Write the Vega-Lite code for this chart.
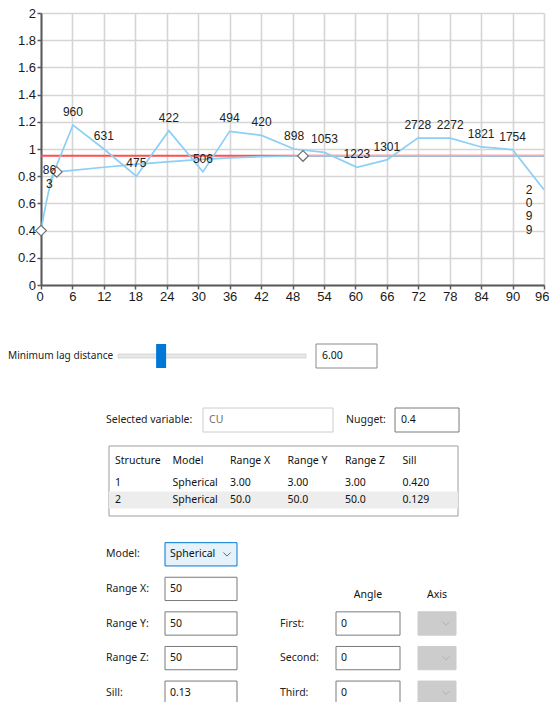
{
  "$schema": "https://vega.github.io/schema/vega-lite/v6.json",
  "background": "white",
  "padding": {"left": 8, "top": 7, "right": 0, "bottom": 0},
  "config": {
    "view": {"stroke": null},
    "text": {"font": "Noto Sans", "fontSize": 10.5, "color": "#111111"}
  },
  "datasets": {
    "exp": [
      {"lag": 1.6, "gamma": 0.75, "pairs": 863, "label": "86\n3"},
      {"lag": 6.1, "gamma": 1.175, "pairs": 960, "label": "960"},
      {"lag": 12.0, "gamma": 1.0, "pairs": 631, "label": "631"},
      {"lag": 18.2, "gamma": 0.8, "pairs": 475, "label": "475"},
      {"lag": 24.4, "gamma": 1.135, "pairs": 422, "label": "422"},
      {"lag": 30.9, "gamma": 0.832, "pairs": 506, "label": "506"},
      {"lag": 36.0, "gamma": 1.13, "pairs": 494, "label": "494"},
      {"lag": 42.1, "gamma": 1.1, "pairs": 420, "label": "420"},
      {"lag": 48.3, "gamma": 1.0, "pairs": 898, "label": "898"},
      {"lag": 54.1, "gamma": 0.975, "pairs": 1053, "label": "1053"},
      {"lag": 60.3, "gamma": 0.865, "pairs": 1223, "label": "1223"},
      {"lag": 66.0, "gamma": 0.92, "pairs": 1301, "label": "1301"},
      {"lag": 71.9, "gamma": 1.08, "pairs": 2728, "label": "2728"},
      {"lag": 78.1, "gamma": 1.08, "pairs": 2272, "label": "2272"},
      {"lag": 84.0, "gamma": 1.015, "pairs": 1821, "label": "1821"},
      {"lag": 90.0, "gamma": 0.995, "pairs": 1754, "label": "1754"},
      {"lag": 96.0, "gamma": 0.7, "pairs": 2099, "label": "2\n0\n9\n9"}
    ],
    "model": [
      {"lag": 0, "gamma": 0.4}, {"lag": 0.25, "gamma": 0.4534}, {"lag": 0.5, "gamma": 0.506},
      {"lag": 0.75, "gamma": 0.5571}, {"lag": 1, "gamma": 0.6061}, {"lag": 1.25, "gamma": 0.6521},
      {"lag": 1.5, "gamma": 0.6946}, {"lag": 1.75, "gamma": 0.7326}, {"lag": 2, "gamma": 0.7655},
      {"lag": 2.25, "gamma": 0.7926}, {"lag": 2.5, "gamma": 0.8131}, {"lag": 2.75, "gamma": 0.8264},
      {"lag": 3, "gamma": 0.8316}, {"lag": 6, "gamma": 0.8431}, {"lag": 12, "gamma": 0.8656},
      {"lag": 18, "gamma": 0.8867}, {"lag": 24, "gamma": 0.9057}, {"lag": 30, "gamma": 0.9222},
      {"lag": 36, "gamma": 0.9352}, {"lag": 42, "gamma": 0.9443}, {"lag": 48, "gamma": 0.9487},
      {"lag": 50, "gamma": 0.949}, {"lag": 96, "gamma": 0.949}
    ]
  },
  "spacing": 0,
  "vconcat": [
    {
      "spacing": 0,
      "hconcat": [
        {"width": 9, "height": 50, "data": {"values": [{}]}, "mark": {"type": "rect", "opacity": 0}, "encoding": {}},
        {
          "width": 503,
          "height": 272,
          "layer": [
            {
              "data": {"values": [{"gamma": 0.95}]},
              "mark": {"type": "rule", "color": "#ff4f4f", "strokeWidth": 2},
              "encoding": {"y": {"field": "gamma", "type": "quantitative", "title": null}}
            },
            {
              "data": {"name": "model"},
              "mark": {"type": "line", "color": "#8dcff5", "strokeWidth": 1.7},
              "encoding": {
                "x": {
                  "field": "lag", "type": "quantitative", "title": null,
                  "scale": {"domain": [0, 96], "nice": false},
                  "axis": {
                    "values": [0, 6, 12, 18, 24, 30, 36, 42, 48, 54, 60, 66, 72, 78, 84, 90, 96],
                    "tickCount": 40,
                    "grid": true, "gridColor": "#d5d5d5", "gridWidth": 1.6,
                    "domainColor": "#5a5a5a", "domainWidth": 2,
                    "tickColor": "#5a5a5a", "tickWidth": 1.5, "tickSize": 4,
                    "labelFont": "Liberation Sans", "labelFontSize": 13, "labelColor": "#1a1a1a",
                    "labelPadding": 1, "labelFlush": true, "labelFlushOffset": 5, "labelOverlap": false, "labelBound": false
                  }
                },
                "y": {
                  "field": "gamma", "type": "quantitative", "title": null,
                  "scale": {"domain": [0, 2], "nice": false},
                  "axis": {
                    "values": [0, 0.2, 0.4, 0.6, 0.8, 1, 1.2, 1.4, 1.6, 1.8, 2],
                    "tickCount": 40,
                    "format": "~g",
                    "grid": true, "gridColor": "#d5d5d5", "gridWidth": 1.6,
                    "domainColor": "#5a5a5a", "domainWidth": 2,
                    "tickColor": "#5a5a5a", "tickWidth": 1.5, "tickSize": 4,
                    "labelFont": "Liberation Sans", "labelFontSize": 13, "labelColor": "#1a1a1a",
                    "labelPadding": 1.5, "labelOverlap": false
                  }
                }
              }
            },
            {
              "data": {"name": "exp"},
              "mark": {"type": "line", "color": "#8dcff5", "strokeWidth": 1.7},
              "encoding": {
                "x": {"field": "lag", "type": "quantitative", "title": null},
                "y": {"field": "gamma", "type": "quantitative", "title": null}
              }
            },
            {
              "data": {"values": [{"lag": 0, "gamma": 0.4}, {"lag": 3, "gamma": 0.8316}, {"lag": 50, "gamma": 0.949}]},
              "mark": {"type": "point", "shape": "diamond", "filled": true, "fill": "white", "stroke": "#707070", "strokeWidth": 1.2, "size": 115, "opacity": 1},
              "encoding": {
                "x": {"field": "lag", "type": "quantitative", "title": null},
                "y": {"field": "gamma", "type": "quantitative", "title": null}
              }
            },
            {
              "data": {"name": "exp"},
              "transform": [{"filter": "datum.lag < 95"}],
              "mark": {"type": "text", "font": "Liberation Sans", "fontSize": 12, "color": "#222222", "baseline": "bottom", "dy": -6, "lineBreak": "\n", "lineHeight": 14},
              "encoding": {
                "x": {"field": "lag", "type": "quantitative", "title": null},
                "y": {"field": "gamma", "type": "quantitative", "title": null},
                "text": {"field": "label"}
              }
            },
            {
              "data": {"name": "exp"},
              "transform": [{"filter": "datum.lag >= 95"}],
              "mark": {"type": "text", "font": "Liberation Sans", "fontSize": 12, "color": "#222222", "align": "center", "baseline": "middle", "dx": -15, "lineBreak": "\n", "lineHeight": 13.3},
              "encoding": {
                "x": {"field": "lag", "type": "quantitative", "title": null},
                "y": {"field": "gamma", "type": "quantitative", "title": null},
                "text": {"field": "label"}
              }
            }
          ]
        }
      ]
    },
    {"width": 1, "height": 39.5, "data": {"values": [{}]}, "mark": {"type": "rect", "opacity": 0}, "encoding": {}},
    {
      "spacing": 0,
      "hconcat": [
        {
          "width": 109, "height": 24,
          "data": {"values": [{"t": "Minimum lag distance"}]},
          "mark": {"type": "text", "align": "left", "fontSize": 10.1, "color": "#222222"},
          "encoding": {
            "x": {"datum": 0, "type": "quantitative", "scale": {"domain": [0, 1]}, "axis": null},
            "text": {"field": "t"}
          }
        },
        {
          "width": 197, "height": 24,
          "layer": [
            {
              "data": {"values": [{"from": 0, "to": 25}]},
              "mark": {"type": "rect", "fill": "#e7e9e9", "stroke": "#d4d6d6", "strokeWidth": 1},
              "encoding": {
                "x": {"field": "from", "type": "quantitative", "scale": {"domain": [0, 26.2], "nice": false, "zero": false}, "axis": null},
                "x2": {"field": "to"},
                "y": {"datum": 0.42, "type": "quantitative", "scale": {"domain": [0, 1]}, "axis": null},
                "y2": {"datum": 0.58}
              }
            },
            {
              "data": {"values": [{"minLag": 6}]},
              "mark": {"type": "rect", "fill": "#0078d7", "width": 10, "xOffset": -2},
              "encoding": {"x": {"field": "minLag", "type": "quantitative"}}
            }
          ]
        },
        {
          "width": 61, "height": 24,
          "data": {"values": [{"v": "6.00"}]},
          "layer": [
            {"mark": {"type": "rect", "fill": "white", "stroke": "#8a8a8a"}, "encoding": {}},
            {
              "mark": {"type": "text", "align": "left", "dx": 6},
              "encoding": {
                "x": {"datum": 0, "type": "quantitative", "scale": {"domain": [0, 1]}, "axis": null},
                "text": {"field": "v"}
              }
            }
          ]
        }
      ]
    },
    {"width": 1, "height": 38, "data": {"values": [{}]}, "mark": {"type": "rect", "opacity": 0}, "encoding": {}},
    {
      "spacing": 0,
      "hconcat": [
        {"width": 98, "height": 10, "data": {"values": [{}]}, "mark": {"type": "rect", "opacity": 0}, "encoding": {}},
        {
          "width": 96, "height": 24,
          "data": {"values": [{"t": "Selected variable:"}]},
          "mark": {"type": "text", "align": "left", "color": "#222222"},
          "encoding": {
            "x": {"datum": 0, "type": "quantitative", "scale": {"domain": [0, 1]}, "axis": null},
            "text": {"field": "t"}
          }
        },
        {
          "width": 130, "height": 24,
          "data": {"values": [{"v": "CU"}]},
          "layer": [
            {"mark": {"type": "rect", "fill": "white", "stroke": "#cccccc"}, "encoding": {}},
            {
              "mark": {"type": "text", "align": "left", "dx": 6, "color": "#6d6d6d"},
              "encoding": {
                "x": {"datum": 0, "type": "quantitative", "scale": {"domain": [0, 1]}, "axis": null},
                "text": {"field": "v"}
              }
            }
          ]
        },
        {"width": 12, "height": 10, "data": {"values": [{}]}, "mark": {"type": "rect", "opacity": 0}, "encoding": {}},
        {
          "width": 48, "height": 24,
          "data": {"values": [{"t": "Nugget:"}]},
          "mark": {"type": "text", "align": "left", "color": "#222222"},
          "encoding": {
            "x": {"datum": 0, "type": "quantitative", "scale": {"domain": [0, 1]}, "axis": null},
            "text": {"field": "t"}
          }
        },
        {
          "width": 64, "height": 24,
          "data": {"values": [{"v": "0.4"}]},
          "layer": [
            {"mark": {"type": "rect", "fill": "white", "stroke": "#7a7a7a"}, "encoding": {}},
            {
              "mark": {"type": "text", "align": "left", "dx": 6},
              "encoding": {
                "x": {"datum": 0, "type": "quantitative", "scale": {"domain": [0, 1]}, "axis": null},
                "text": {"field": "v"}
              }
            }
          ]
        }
      ]
    },
    {"width": 1, "height": 12, "data": {"values": [{}]}, "mark": {"type": "rect", "opacity": 0}, "encoding": {}},
    {
      "spacing": 0,
      "hconcat": [
        {"width": 100, "height": 10, "data": {"values": [{}]}, "mark": {"type": "rect", "opacity": 0}, "encoding": {}},
        {
          "width": 349, "height": 70,
          "layer": [
            {"data": {"values": [{}]}, "mark": {"type": "rect", "fill": "white", "stroke": "#9a9da3"}, "encoding": {}},
            {
              "data": {"values": [{"row": "2"}]},
              "mark": {"type": "rect", "fill": "#ededed"},
              "encoding": {
                "y": {"field": "row", "type": "nominal", "axis": null,
                  "scale": {"type": "band", "domain": ["h", "1", "2"], "paddingInner": 0, "paddingOuter": 0.5588, "align": 0.605}}
              }
            },
            {
              "data": {"values": [
                {"row": "h", "col": "Structure"}, {"row": "h", "col": "Model"}, {"row": "h", "col": "Range X"},
                {"row": "h", "col": "Range Y"}, {"row": "h", "col": "Range Z"}, {"row": "h", "col": "Sill"}
              ]},
              "mark": {"type": "text", "align": "left", "dx": 4, "dy": -5},
              "encoding": {
                "x": {"field": "col", "type": "nominal", "axis": null, "bandPosition": 0,
                  "scale": {"type": "band", "domain": ["Structure", "Model", "Range X", "Range Y", "Range Z", "Sill"], "paddingInner": 0, "paddingOuter": 0.035}},
                "y": {"field": "row", "type": "nominal", "axis": null},
                "text": {"field": "col"}
              }
            },
            {
              "data": {"values": [
                {"row": "1", "Structure": "1", "Model": "Spherical", "Range X": "3.00", "Range Y": "3.00", "Range Z": "3.00", "Sill": "0.420"},
                {"row": "2", "Structure": "2", "Model": "Spherical", "Range X": "50.0", "Range Y": "50.0", "Range Z": "50.0", "Sill": "0.129"}
              ]},
              "transform": [{"fold": ["Structure", "Model", "Range X", "Range Y", "Range Z", "Sill"], "as": ["col", "val"]}],
              "mark": {"type": "text", "align": "left", "dx": 4},
              "encoding": {
                "x": {"field": "col", "type": "nominal", "axis": null, "bandPosition": 0},
                "y": {"field": "row", "type": "nominal", "axis": null},
                "text": {"field": "val"}
              }
            }
          ]
        }
      ]
    },
    {"width": 1, "height": 19.7, "data": {"values": [{}]}, "mark": {"type": "rect", "opacity": 0}, "encoding": {}},
    {
      "spacing": 0,
      "hconcat": [
        {"width": 98, "height": 10, "data": {"values": [{}]}, "mark": {"type": "rect", "opacity": 0}, "encoding": {}},
        {
          "width": 58, "height": 173,
          "data": {"values": [
            {"row": "Model", "t": "Model:"}, {"row": "Range X", "t": "Range X:"}, {"row": "Range Y", "t": "Range Y:"},
            {"row": "Range Z", "t": "Range Z:"}, {"row": "Sill", "t": "Sill:"}
          ]},
          "mark": {"type": "text", "align": "left", "color": "#222222"},
          "encoding": {
            "x": {"datum": 0, "type": "quantitative", "scale": {"domain": [0, 1]}, "axis": null},
            "y": {"field": "row", "type": "nominal", "axis": null,
              "scale": {"type": "band", "domain": ["Model", "Range X", "Range Y", "Range Z", "Sill"], "paddingInner": 0.327, "paddingOuter": 0.1635}},
            "text": {"field": "t"}
          }
        },
        {
          "width": 72, "height": 173,
          "data": {"values": [
            {"row": "Model", "t": "Spherical", "kind": "combo"}, {"row": "Range X", "t": "50", "kind": "text"},
            {"row": "Range Y", "t": "50", "kind": "text"}, {"row": "Range Z", "t": "50", "kind": "text"},
            {"row": "Sill", "t": "0.13", "kind": "text"}
          ]},
          "layer": [
            {
              "mark": {"type": "rect", "strokeWidth": 1},
              "encoding": {
                "y": {"field": "row", "type": "nominal", "axis": null,
                  "scale": {"type": "band", "domain": ["Model", "Range X", "Range Y", "Range Z", "Sill"], "paddingInner": 0.327, "paddingOuter": 0.1635}},
                "fill": {"field": "kind", "type": "nominal", "legend": null, "scale": {"domain": ["combo", "text"], "range": ["#e5f1fb", "#ffffff"]}},
                "stroke": {"field": "kind", "type": "nominal", "legend": null, "scale": {"domain": ["combo", "text"], "range": ["#0078d7", "#7a7a7a"]}}
              }
            },
            {
              "mark": {"type": "text", "align": "left", "dx": 5},
              "encoding": {
                "x": {"datum": 0, "type": "quantitative", "scale": {"domain": [0, 1]}, "axis": null},
                "y": {"field": "row", "type": "nominal", "axis": null},
                "text": {"field": "t"}
              }
            },
            {
              "transform": [{"filter": "datum.kind === 'combo'"}],
              "mark": {"type": "point", "shape": "M-1,-0.5L0,0.5L1,-0.5", "filled": false, "stroke": "#333333", "strokeWidth": 1, "size": 50, "xOffset": -10},
              "encoding": {
                "x": {"datum": 1, "type": "quantitative", "axis": null},
                "y": {"field": "row", "type": "nominal", "axis": null}
              }
            }
          ]
        },
        {"width": 42, "height": 10, "data": {"values": [{}]}, "mark": {"type": "rect", "opacity": 0}, "encoding": {}},
        {
          "width": 55, "height": 173,
          "data": {"values": [
            {"row": "Range Y", "t": "First:"}, {"row": "Range Z", "t": "Second:"}, {"row": "Sill", "t": "Third:"}
          ]},
          "mark": {"type": "text", "align": "left", "color": "#222222"},
          "encoding": {
            "x": {"datum": 0, "type": "quantitative", "scale": {"domain": [0, 1]}, "axis": null},
            "y": {"field": "row", "type": "nominal", "axis": null,
              "scale": {"type": "band", "domain": ["Model", "Range X", "Range Y", "Range Z", "Sill"], "paddingInner": 0.327, "paddingOuter": 0.1635}},
            "text": {"field": "t"}
          }
        },
        {
          "width": 64, "height": 173,
          "layer": [
            {
              "data": {"values": [{"row": "Range X", "t": "Angle"}]},
              "mark": {"type": "text", "align": "center", "dy": 6},
              "encoding": {
                "y": {"field": "row", "type": "nominal", "axis": null,
                  "scale": {"type": "band", "domain": ["Model", "Range X", "Range Y", "Range Z", "Sill"], "paddingInner": 0.327, "paddingOuter": 0.1635}},
                "text": {"field": "t"}
              }
            },
            {
              "data": {"values": [{"row": "Range Y", "t": "0"}, {"row": "Range Z", "t": "0"}, {"row": "Sill", "t": "0"}]},
              "layer": [
                {
                  "mark": {"type": "rect", "fill": "white", "stroke": "#7a7a7a"},
                  "encoding": {"y": {"field": "row", "type": "nominal", "axis": null}}
                },
                {
                  "mark": {"type": "text", "align": "left", "dx": 5},
                  "encoding": {
                    "x": {"datum": 0, "type": "quantitative", "scale": {"domain": [0, 1]}, "axis": null},
                    "y": {"field": "row", "type": "nominal", "axis": null},
                    "text": {"field": "t"}
                  }
                }
              ]
            }
          ]
        },
        {"width": 16, "height": 10, "data": {"values": [{}]}, "mark": {"type": "rect", "opacity": 0}, "encoding": {}},
        {
          "width": 38, "height": 173,
          "layer": [
            {
              "data": {"values": [{"row": "Range X", "t": "Axis"}]},
              "mark": {"type": "text", "align": "center", "dy": 6},
              "encoding": {
                "y": {"field": "row", "type": "nominal", "axis": null,
                  "scale": {"type": "band", "domain": ["Model", "Range X", "Range Y", "Range Z", "Sill"], "paddingInner": 0.327, "paddingOuter": 0.1635}},
                "text": {"field": "t"}
              }
            },
            {
              "data": {"values": [{"row": "Range Y"}, {"row": "Range Z"}, {"row": "Sill"}]},
              "layer": [
                {
                  "mark": {"type": "rect", "fill": "#cccccc", "stroke": "#cccccc"},
                  "encoding": {"y": {"field": "row", "type": "nominal", "axis": null}}
                },
                {
                  "mark": {"type": "point", "shape": "M-1,-0.5L0,0.5L1,-0.5", "filled": false, "stroke": "#a8a8a8", "strokeWidth": 1, "size": 50, "xOffset": -10},
                  "encoding": {
                    "x": {"datum": 1, "type": "quantitative", "scale": {"domain": [0, 1]}, "axis": null},
                    "y": {"field": "row", "type": "nominal", "axis": null}
                  }
                }
              ]
            }
          ]
        }
      ]
    }
  ]
}
